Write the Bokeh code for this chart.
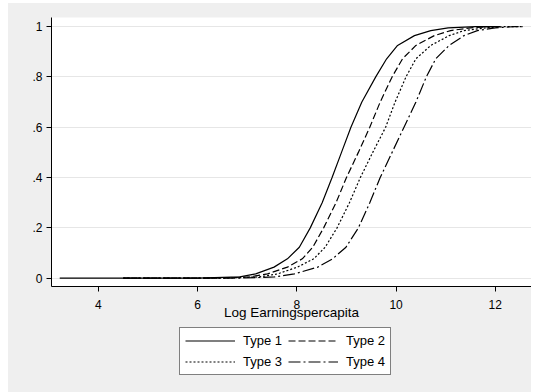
from bokeh.plotting import figure
from bokeh.layouts import column
from bokeh.models import Legend, LegendItem, FixedTicker, Range1d
from bokeh.embed import file_html
from bokeh.resources import INLINE

# ---- data ----
cdf_levels = [0, 0, 0.005, 0.017, 0.044, 0.077, 0.123, 0.2, 0.3, 0.4, 0.5,
              0.6, 0.7, 0.8, 0.872, 0.925, 0.964, 0.984, 0.995, 1.0, 1.0]
type1_x = [3.22, 6.0, 6.85, 7.17, 7.54, 7.81, 8.05, 8.27, 8.51, 8.71, 8.90,
           9.09, 9.31, 9.59, 9.81, 10.03, 10.37, 10.70, 11.05, 11.6, 12.1]
type2_x = [4.5, 6.3, 7.05, 7.41, 7.81, 8.11, 8.32, 8.54, 8.79, 9.00, 9.24,
           9.47, 9.68, 9.92, 10.13, 10.40, 10.77, 11.10, 11.5, 11.95, 12.1]
type3_x = [4.5, 6.5, 7.25, 7.61, 8.01, 8.34, 8.57, 8.81, 9.06, 9.28, 9.53,
           9.79, 9.98, 10.20, 10.40, 10.70, 11.07, 11.37, 11.8, 12.2, 12.55]
type4_x = [4.5, 6.8, 7.55, 7.95, 8.42, 8.72, 8.99, 9.24, 9.47, 9.68, 9.92,
           10.16, 10.40, 10.61, 10.80, 11.07, 11.37, 11.64, 12.0, 12.4, 12.55]

series_names = ["Type 1", "Type 2", "Type 3", "Type 4"]
x_ticks = [4, 6, 8, 10, 12]
y_ticks = [0, 0.2, 0.4, 0.6, 0.8, 1.0]
y_tick_labels = ["0", ".2", ".4", ".6", ".8", "1"]
x_title = "Log Earningspercapita"

FONT = "Liberation Sans"
BG = "#efefef"

styles = [
    dict(line_dash="solid"),
    dict(line_dash="7 3"),
    dict(line_dash="2 2"),
    dict(line_dash="12 3 2 3"),
]
xs = [type1_x, type2_x, type3_x, type4_x]

# ---------------- main plot ----------------
p = figure(width=523, height=323,
           x_range=Range1d(3.054, 12.73), y_range=Range1d(-0.033, 1.036),
           output_backend="svg", toolbar_location=None,
           min_border_left=43, min_border_right=0,
           min_border_top=14, min_border_bottom=40)
p.background_fill_color = "white"
p.border_fill_color = BG
p.outline_line_color = None

for x, st in zip(xs, styles):
    p.line(x, cdf_levels, line_color="black", line_width=1.2, **st)

p.xgrid.grid_line_color = None
p.ygrid.grid_line_color = "#e6e6e6"
p.ygrid.grid_line_width = 1.2

p.xaxis.ticker = FixedTicker(ticks=x_ticks)
p.yaxis.ticker = FixedTicker(ticks=y_ticks)
p.yaxis.major_label_overrides = {t: l for t, l in zip(y_ticks, y_tick_labels)}
for ax in (p.xaxis[0], p.yaxis[0]):
    ax.axis_line_color = "black"
    ax.axis_line_width = 1
    ax.major_tick_line_color = "black"
    ax.major_tick_out = 5
    ax.major_tick_in = 0
    ax.minor_tick_line_color = None
    ax.major_label_text_font = FONT
    ax.major_label_text_font_size = "12px"
    ax.major_label_text_color = "black"
p.xaxis.major_label_standoff = 8
p.yaxis.major_label_standoff = 4
p.xaxis.axis_label = x_title
p.xaxis.axis_label_text_font = FONT
p.xaxis.axis_label_text_font_size = "13.5px"
p.xaxis.axis_label_text_font_style = "normal"
p.xaxis.axis_label_text_color = "black"
p.xaxis.axis_label_standoff = -7

# ---------------- legend strip ----------------
lg = figure(width=523, height=66, x_range=Range1d(0, 1), y_range=Range1d(0, 1),
            x_axis_location=None, y_axis_location=None,
            output_backend="svg", toolbar_location=None,
            min_border_left=43, min_border_right=0,
            min_border_top=0, min_border_bottom=0)
lg.grid.visible = False
lg.background_fill_color = BG
lg.border_fill_color = BG
lg.outline_line_color = None

legend_renderers = []
for x, st in zip(xs, styles):
    # same series; out of this strip's range, only their legend glyphs show
    legend_renderers.append(
        lg.line(x, cdf_levels, line_color="black", line_width=1.2, **st))

legend = Legend(
    items=[LegendItem(label=n, renderers=[r]) for n, r in zip(series_names, legend_renderers)],
    orientation="horizontal", ncols=2,
    location=(128, 17),
    border_line_color="black", border_line_width=1,
    background_fill_color="white", background_fill_alpha=1.0,
    padding=5, spacing=6, margin=0,
    glyph_width=50, glyph_height=15, label_height=15,
    label_standoff=8,
    label_text_font=FONT, label_text_font_size="13px", label_text_color="black",
)
lg.add_layout(legend, "center")

layout = column(p, lg, spacing=0, margin=(3, 2, 0, 8),
                styles={"background-color": BG})
open("out.html", "w").write(file_html(layout, INLINE))
